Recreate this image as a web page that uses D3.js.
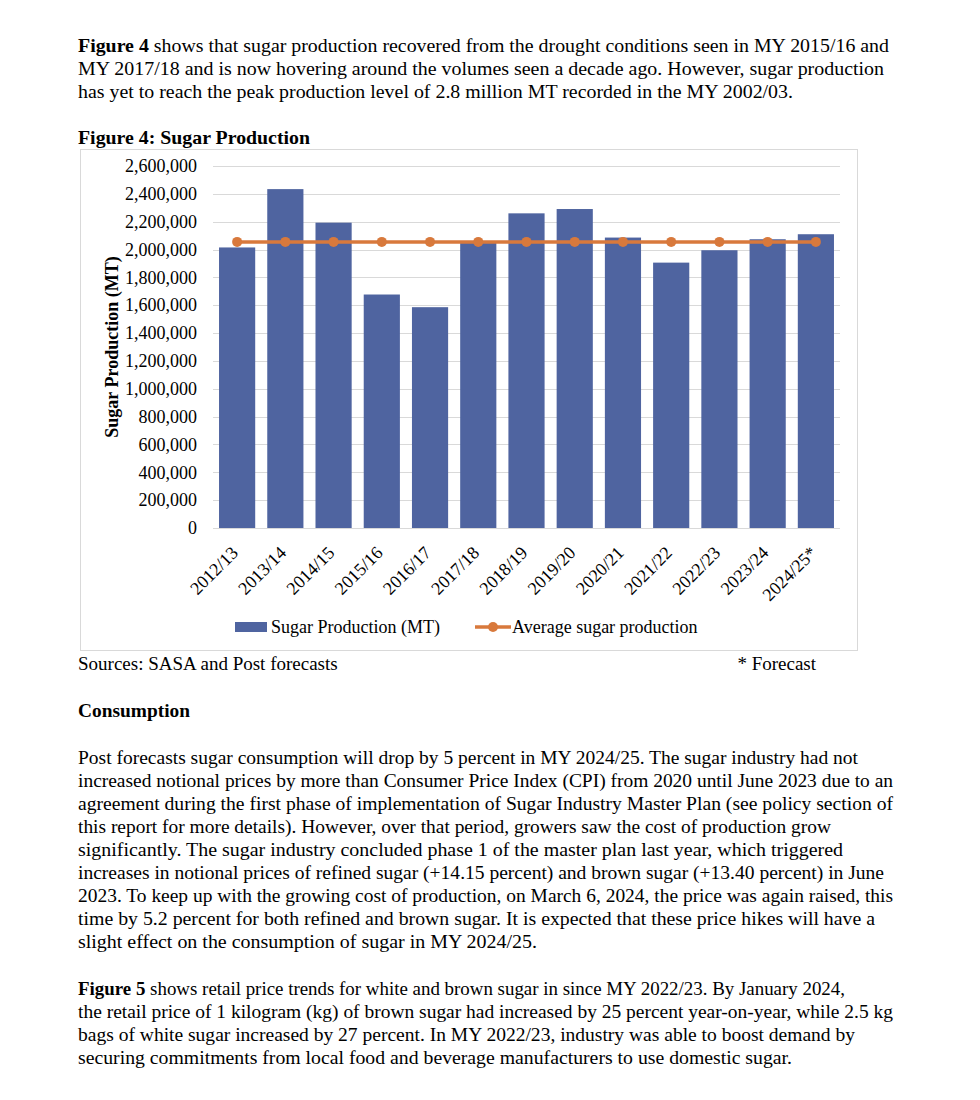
<!DOCTYPE html>
<html>
<head>
<meta charset="utf-8">
<script src="https://cdn.jsdelivr.net/npm/d3@7"></script>
<style>
  html, body { margin: 0; padding: 0; background: #ffffff; }
  svg { display: block; }
  text { font-family: "Liberation Serif", "Times New Roman", serif; fill: #000; }
</style>
</head>
<body>
<svg id="page" width="980" height="1100"></svg>
<script>
// ---------- Data ----------
const categories = ["2012/13","2013/14","2014/15","2015/16","2016/17","2017/18","2018/19","2019/20","2020/21","2021/22","2022/23","2023/24","2024/25*"];
const production = [2015000, 2434000, 2193000, 1677000, 1586000, 2047000, 2260000, 2291000, 2086000, 1906000, 1995000, 2074000, 2110000];
const averageProduction = [2055000, 2055000, 2055000, 2055000, 2055000, 2055000, 2055000, 2055000, 2055000, 2055000, 2055000, 2055000, 2055000];
const yTicks = [0, 200000, 400000, 600000, 800000, 1000000, 1200000, 1400000, 1600000, 1800000, 2000000, 2200000, 2400000, 2600000];
const seriesNames = ["Sugar Production (MT)", "Average sugar production"];

// ---------- Page text ----------
const introLines = [
  [["Figure 4", true], [" shows that sugar production recovered from the drought conditions seen in MY 2015/16 and", false]],
  [["MY 2017/18 and is now hovering around the volumes seen a decade ago. However, sugar production", false]],
  [["has yet to reach the peak production level of 2.8 million MT recorded in the MY 2002/03.", false]]
];
const introWidths = [811, 806, 715];
const consumptionLines = [
  "Post forecasts sugar consumption will drop by 5 percent in MY 2024/25. The sugar industry had not",
  "increased notional prices by more than Consumer Price Index (CPI) from 2020 until June 2023 due to an",
  "agreement during the first phase of implementation of Sugar Industry Master Plan (see policy section of",
  "this report for more details). However, over that period, growers saw the cost of production grow",
  "significantly. The sugar industry concluded phase 1 of the master plan last year, which triggered",
  "increases in notional prices of refined sugar (+14.15 percent) and brown sugar (+13.40 percent) in June",
  "2023. To keep up with the growing cost of production, on March 6, 2024, the price was again raised, this",
  "time by 5.2 percent for both refined and brown sugar. It is expected that these price hikes will have a",
  "slight effect on the consumption of sugar in MY 2024/25."
];
const consumptionWidths = [780, 815, 815, 753, 765, 806, 815, 797, 459];
const fig5Lines = [
  [["Figure 5", true], [" shows retail price trends for white and brown sugar in since MY 2022/23. By January 2024,", false]],
  [["the retail price of 1 kilogram (kg) of brown sugar had increased by 25 percent year-on-year, while 2.5 kg", false]],
  [["bags of white sugar increased by 27 percent. In MY 2022/23, industry was able to boost demand by", false]],
  [["securing commitments from local food and beverage manufacturers to use domestic sugar.", false]]
];
const fig5Widths = [767, 815, 777, 714];

const svg = d3.select("#page");
const LEFT = 78;
const FS = 19;

function richLine(parts, y, width) {
  const t = svg.append("text").attr("x", LEFT).attr("y", y).style("font-size", FS + "px")
    .attr("textLength", width).attr("lengthAdjust", "spacingAndGlyphs");
  parts.forEach(p => t.append("tspan").text(p[0]).style("font-weight", p[1] ? "bold" : "normal"));
}

introLines.forEach((l, i) => richLine(l, 52 + i * 23, introWidths[i]));

svg.append("text").attr("x", LEFT).attr("y", 144).style("font-size", FS + "px")
  .style("font-weight", "bold").attr("textLength", 232).attr("lengthAdjust", "spacingAndGlyphs")
  .text("Figure 4: Sugar Production");

// ---------- Chart ----------
svg.append("rect").attr("x", 80.5).attr("y", 149.5).attr("width", 777).attr("height", 501)
  .attr("fill", "#fff").attr("stroke", "#d9d9d9").attr("stroke-width", 1);

const x = d3.scaleBand().domain(categories).range([213, 840]).paddingInner(0.25).paddingOuter(0.125);
const y = d3.scaleLinear().domain([0, 2600000]).range([528, 166]);

// gridlines
svg.append("g").selectAll("line").data(yTicks).join("line")
  .attr("x1", 213).attr("x2", 840)
  .attr("y1", d => Math.round(y(d)) + 0.5).attr("y2", d => Math.round(y(d)) + 0.5)
  .attr("stroke", "#d9d9d9").attr("stroke-width", 1);

// y axis
const yAxis = svg.append("g").attr("transform", "translate(213,0)")
  .call(d3.axisLeft(y).tickValues(yTicks).tickFormat(d3.format(",")).tickSize(0).tickPadding(16));
yAxis.select(".domain").remove();
yAxis.selectAll("text").style("font-size", "18px").style("font-family", "'Liberation Serif', serif").attr("fill", "#000");

// y title
svg.append("text").attr("transform", "translate(118," + y(1300000) + ") rotate(-90)")
  .attr("text-anchor", "middle").style("font-size", "18px").style("font-weight", "bold")
  .text("Sugar Production (MT)");

// bars
svg.append("g").selectAll("rect").data(categories).join("rect")
  .attr("x", d => x(d)).attr("width", x.bandwidth())
  .attr("y", (d, i) => y(production[i])).attr("height", (d, i) => y(0) - y(production[i]))
  .attr("fill", "#4f64a0");

// x axis
const xAxis = svg.append("g").attr("transform", "translate(0,528)")
  .call(d3.axisBottom(x).tickSize(0).tickPadding(0));
xAxis.select(".domain").remove();
xAxis.selectAll("text")
  .style("font-size", "18px").style("font-family", "'Liberation Serif', serif").attr("fill", "#000")
  .attr("text-anchor", "end").attr("dy", null).attr("y", null)
  .attr("transform", "translate(2,26) rotate(-45)");

// average line
const lineColor = "#d8793c";
const line = d3.line().x((d, i) => x(categories[i]) + x.bandwidth() / 2).y(d => y(d));
svg.append("path").datum(averageProduction).attr("d", line)
  .attr("fill", "none").attr("stroke", lineColor).attr("stroke-width", 3.5);
svg.append("g").selectAll("circle").data(averageProduction).join("circle")
  .attr("cx", (d, i) => x(categories[i]) + x.bandwidth() / 2).attr("cy", d => y(d))
  .attr("r", 5).attr("fill", lineColor);

// legend
const lg = svg.append("g");
lg.append("rect").attr("x", 235).attr("y", 622).attr("width", 32).attr("height", 10).attr("fill", "#4f64a0");
lg.append("text").attr("x", 271).attr("y", 633).style("font-size", "18px").text(seriesNames[0]);
lg.append("line").attr("x1", 475).attr("x2", 511).attr("y1", 627).attr("y2", 627)
  .attr("stroke", lineColor).attr("stroke-width", 3.5);
lg.append("circle").attr("cx", 493).attr("cy", 627).attr("r", 5).attr("fill", lineColor);
lg.append("text").attr("x", 512).attr("y", 633).style("font-size", "18px").text(seriesNames[1]);

// sources
svg.append("text").attr("x", LEFT).attr("y", 670).style("font-size", FS + "px").text("Sources: SASA and Post forecasts");
svg.append("text").attr("x", 816).attr("y", 670).attr("text-anchor", "end").style("font-size", FS + "px").text("* Forecast");

// ---------- Consumption ----------
svg.append("text").attr("x", LEFT).attr("y", 717).style("font-size", FS + "px").style("font-weight", "bold")
  .attr("textLength", 112).attr("lengthAdjust", "spacingAndGlyphs").text("Consumption");

consumptionLines.forEach((l, i) => {
  svg.append("text").attr("x", LEFT).attr("y", 764 + i * 23).style("font-size", FS + "px")
    .attr("textLength", consumptionWidths[i]).attr("lengthAdjust", "spacingAndGlyphs").text(l);
});

fig5Lines.forEach((l, i) => richLine(l, 995 + i * 23, fig5Widths[i]));
</script>
</body>
</html>
